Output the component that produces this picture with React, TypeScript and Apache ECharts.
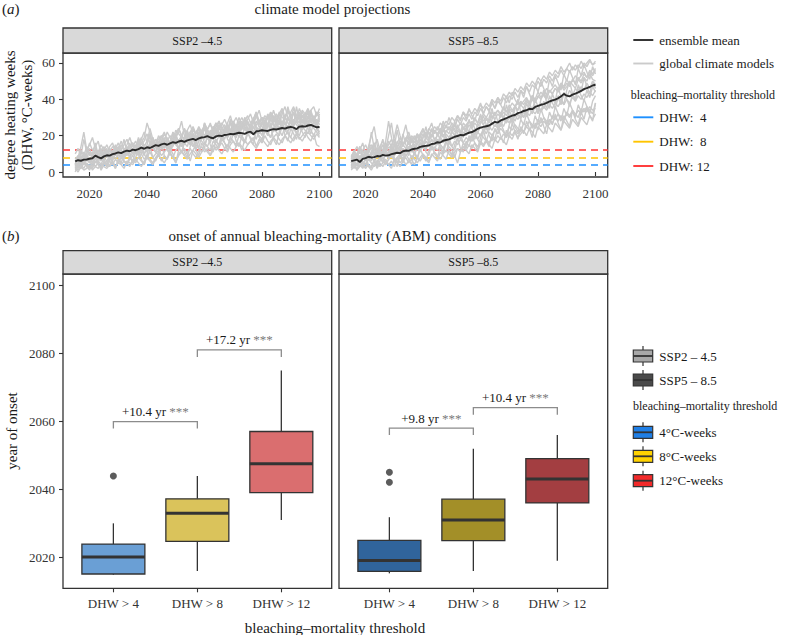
import React, { useEffect, useRef } from "react";
import * as echarts from "echarts";

const FONT = "'Liberation Serif', 'DejaVu Serif', serif";

// ---------- data ----------
const years = Array.from({ length: 86 }, (_, i) => 2015 + i);

const ssp245Mean = [
  5.8, 6.5, 6.2, 6.8, 6.9, 7.3, 7.6, 9.0, 8.2, 7.5,
  8.6, 9.2, 9.0, 9.8, 10.2, 10.8, 10.4, 11.2, 11.8, 11.4,
  12.3, 12.0, 12.6, 13.4, 12.8, 13.6, 13.2, 14.0, 14.8, 14.4,
  15.2, 15.6, 15.0, 15.8, 16.4, 16.0, 16.8, 17.2, 16.6, 17.4,
  17.8, 18.2, 17.6, 18.5, 19.0, 19.2, 19.8, 19.0, 18.6, 19.6,
  20.0, 19.8, 20.4, 20.6, 21.0, 20.8, 21.2, 21.6, 21.4, 21.0,
  21.8, 22.2, 20.8, 22.4, 22.6, 23.0, 22.8, 22.6, 23.2, 23.6,
  23.4, 23.8, 24.2, 23.9, 24.5, 24.8, 24.4, 23.6, 25.0, 25.2,
  25.0, 25.6, 25.9, 25.2, 24.6, 24.8,
];

const ssp585Mean = [
  6.0, 6.4, 6.8, 5.5, 7.2, 7.6, 8.4, 8.0, 8.2, 8.8,
  8.6, 9.4, 9.0, 9.2, 9.8, 10.2, 10.6, 10.4, 11.4, 11.8,
  11.6, 12.4, 12.8, 13.0, 13.8, 14.2, 14.4, 14.6, 15.4, 15.6,
  16.4, 16.2, 17.2, 17.6, 18.0, 18.6, 19.4, 19.8, 20.4, 20.2,
  21.0, 21.6, 22.0, 22.8, 23.8, 24.4, 24.8, 25.2, 25.6, 26.6,
  27.6, 27.2, 28.4, 29.0, 29.6, 30.4, 31.0, 31.4, 32.4, 32.8,
  33.6, 34.0, 34.8, 34.6, 35.8, 36.4, 37.0, 37.4, 38.0, 38.8,
  39.4, 39.8, 40.6, 41.6, 43.0, 42.0, 41.6, 42.6, 43.2, 43.8,
  44.6, 45.6, 46.2, 46.8, 47.6, 48.0,
];

const ssp245Models = [
  [3, 8, 14, 22, 12, 9, 11, 7, 10, 13, 9, 12, 10, 8, 13, 11, 15, 12, 10, 14, 16, 12, 15, 19, 14, 17, 21, 15, 18, 16, 19, 22, 17, 20, 18, 23, 21, 19, 24, 20, 22, 25, 21, 24, 20, 26, 23, 27, 22, 25, 28, 24, 26, 23, 29, 27, 25, 30, 26, 28, 31, 27, 29, 33, 28, 30, 27, 32, 29, 31, 28, 33, 30, 29, 34, 31, 32, 29, 33, 30, 32, 35, 31, 29, 33, 30],
  [1, 3, 2, 5, 4, 2, 6, 3, 5, 1, 4, 6, 3, 5, 2, 7, 4, 6, 5, 3, 7, 5, 8, 6, 4, 9, 7, 5, 8, 10, 6, 9, 7, 11, 8, 5, 10, 12, 9, 11, 13, 10, 8, 12, 14, 11, 13, 9, 15, 12, 14, 16, 13, 11, 15, 17, 14, 16, 12, 18, 15, 17, 19, 14, 18, 16, 20, 17, 15, 19, 21, 18, 16, 20, 22, 19, 17, 21, 18, 20, 22, 19, 17, 21, 15, 14],
  [6, 4, 8, 7, 10, 6, 9, 11, 8, 7, 10, 8, 12, 9, 11, 13, 10, 12, 14, 11, 13, 15, 12, 16, 19, 27, 22, 14, 16, 13, 17, 15, 18, 16, 14, 19, 17, 20, 18, 16, 21, 19, 17, 22, 20, 18, 23, 21, 19, 24, 22, 20, 25, 23, 21, 24, 26, 22, 25, 23, 27, 24, 22, 26, 28, 25, 23, 27, 25, 29, 26, 24, 28, 26, 30, 27, 25, 29, 27, 31, 28, 26, 30, 27, 29, 26],
  [4, 7, 5, 9, 6, 8, 5, 10, 7, 9, 6, 11, 8, 7, 10, 9, 12, 8, 11, 10, 9, 12, 11, 14, 10, 13, 12, 16, 14, 12, 15, 13, 17, 14, 16, 19, 22, 28, 20, 17, 18, 21, 19, 17, 22, 20, 18, 23, 21, 19, 24, 22, 20, 25, 23, 27, 24, 22, 26, 24, 21, 26, 28, 25, 23, 27, 30, 26, 24, 28, 31, 27, 25, 29, 36, 30, 26, 28, 32, 27, 29, 33, 28, 31, 27, 29],
  [2, 5, 9, 6, 12, 15, 19, 13, 8, 11, 14, 10, 7, 12, 9, 11, 8, 13, 10, 12, 15, 11, 13, 10, 14, 12, 16, 13, 11, 15, 13, 17, 14, 12, 16, 15, 18, 14, 17, 19, 16, 14, 18, 20, 17, 15, 19, 22, 18, 16, 20, 18, 23, 19, 21, 24, 20, 22, 19, 25, 23, 21, 25, 22, 24, 27, 23, 26, 24, 22, 26, 28, 24, 27, 25, 23, 28, 26, 24, 29, 27, 25, 28, 30, 26, 28],
  [5, 3, 6, 4, 8, 5, 7, 9, 6, 4, 8, 6, 9, 11, 7, 10, 8, 12, 9, 13, 11, 14, 10, 13, 15, 12, 16, 14, 18, 15, 17, 14, 19, 16, 21, 18, 16, 20, 23, 19, 21, 24, 20, 18, 23, 25, 21, 19, 24, 27, 23, 26, 29, 25, 22, 27, 30, 26, 28, 25, 29, 32, 27, 30, 34, 28, 31, 29, 33, 30, 27, 32, 35, 30, 28, 33, 36, 31, 29, 34, 32, 30, 34, 36, 31, 35],
  [3, 1, 4, 2, 5, 3, 2, 6, 4, 3, 5, 3, 6, 4, 7, 5, 8, 6, 4, 7, 9, 6, 8, 10, 7, 9, 11, 8, 10, 12, 9, 11, 13, 10, 8, 12, 14, 11, 13, 10, 6, 12, 15, 13, 11, 16, 14, 12, 17, 15, 13, 18, 16, 14, 19, 17, 15, 20, 18, 16, 21, 19, 17, 22, 20, 18, 23, 21, 19, 24, 22, 20, 25, 23, 21, 19, 24, 22, 20, 25, 23, 21, 26, 24, 22, 20],
  [7, 9, 6, 10, 8, 11, 9, 12, 10, 8, 11, 9, 13, 10, 12, 14, 11, 9, 13, 15, 12, 10, 14, 16, 13, 11, 15, 17, 14, 13, 16, 18, 15, 13, 17, 20, 16, 18, 15, 21, 19, 17, 22, 24, 20, 27, 23, 21, 25, 22, 20, 24, 22, 26, 23, 21, 25, 23, 27, 24, 22, 26, 24, 28, 25, 23, 27, 25, 29, 26, 24, 28, 26, 30, 27, 25, 29, 27, 31, 28, 26, 30, 28, 25, 27, 24],
  [2, 0, 3, 1, 2, 4, 1, 3, 2, 5, 3, 2, 4, 6, 3, 5, 4, 2, 6, 5, 4, 7, 5, 3, 6, 8, 6, 4, 7, 9, 7, 5, 8, 10, 8, 6, 9, 11, 9, 7, 10, 12, 10, 8, 11, 13, 11, 9, 12, 14, 12, 10, 13, 15, 13, 11, 14, 16, 14, 12, 15, 17, 15, 13, 16, 18, 16, 14, 17, 19, 17, 15, 18, 20, 18, 16, 19, 21, 19, 17, 20, 22, 20, 18, 21, 19],
  [10, 13, 9, 18, 11, 16, 12, 14, 17, 10, 12, 15, 11, 14, 13, 16, 12, 15, 18, 14, 16, 13, 19, 15, 17, 21, 16, 19, 15, 18, 20, 17, 22, 19, 16, 21, 24, 20, 18, 22, 19, 23, 21, 25, 22, 20, 24, 26, 23, 21, 25, 27, 24, 22, 26, 28, 25, 27, 30, 26, 28, 25, 29, 31, 27, 30, 28, 26, 31, 29, 32, 29, 27, 31, 33, 30, 35, 31, 29, 33, 30, 34, 32, 29, 31, 33],
  [4, 9, 6, 11, 7, 5, 10, 16, 9, 6, 10, 13, 7, 11, 15, 9, 12, 18, 11, 8, 13, 10, 17, 12, 9, 15, 20, 13, 11, 17, 14, 19, 12, 16, 22, 15, 13, 19, 24, 17, 15, 21, 18, 13, 20, 25, 19, 16, 22, 27, 20, 17, 24, 21, 28, 22, 19, 26, 23, 30, 24, 21, 27, 32, 25, 22, 28, 24, 33, 26, 23, 29, 34, 27, 24, 31, 26, 36, 28, 25, 31, 27, 33, 29, 26, 32],
  [0, 4, 2, 7, 3, 1, 5, 8, 4, 2, 6, 3, 9, 5, 2, 7, 11, 6, 4, 9, 5, 8, 12, 7, 4, 10, 14, 8, 6, 11, 16, 9, 7, 13, 10, 5, 12, 17, 11, 8, 14, 19, 12, 9, 16, 13, 20, 15, 11, 18, 14, 21, 16, 12, 19, 23, 17, 14, 20, 16, 22, 18, 15, 24, 19, 16, 23, 20, 26, 18, 15, 22, 27, 20, 17, 24, 21, 18, 25, 22, 19, 26, 23, 20, 24, 21],
  [8, 6, 12, 9, 14, 10, 8, 13, 11, 15, 12, 9, 14, 16, 11, 13, 17, 12, 15, 19, 14, 17, 13, 18, 22, 16, 24, 18, 15, 20, 17, 21, 18, 15, 22, 19, 24, 20, 17, 23, 26, 21, 18, 24, 20, 27, 23, 19, 25, 22, 28, 24, 21, 27, 31, 25, 22, 28, 24, 30, 27, 23, 29, 33, 26, 30, 24, 31, 28, 34, 29, 26, 32, 36, 30, 27, 33, 29, 35, 31, 28, 34, 30, 27, 33, 29],
  [5, 2, 7, 4, 9, 6, 3, 8, 5, 10, 7, 4, 9, 6, 11, 8, 5, 10, 13, 8, 6, 11, 9, 14, 10, 7, 12, 15, 11, 9, 13, 16, 12, 10, 15, 18, 13, 11, 16, 14, 19, 15, 12, 17, 21, 16, 14, 18, 22, 17, 15, 20, 24, 18, 16, 21, 19, 25, 20, 17, 22, 26, 21, 18, 23, 20, 27, 22, 19, 24, 28, 23, 20, 25, 22, 29, 24, 21, 26, 23, 27, 24, 21, 28, 25, 22],
  [6, 8, 4, 7, 10, 13, 8, 5, 9, 12, 8, 11, 6, 10, 14, 9, 12, 7, 11, 16, 10, 13, 18, 12, 15, 11, 14, 19, 13, 16, 20, 14, 17, 13, 18, 21, 16, 14, 19, 23, 17, 20, 15, 22, 18, 24, 20, 17, 23, 19, 26, 21, 18, 24, 20, 27, 23, 19, 25, 29, 22, 26, 30, 24, 21, 28, 25, 31, 26, 23, 29, 32, 26, 23, 30, 27, 33, 28, 25, 31, 27, 30, 34, 28, 25, 29],
];

const ssp585Models = [
  [8, 12, 9, 14, 11, 10, 13, 15, 12, 11, 14, 12, 16, 13, 15, 18, 14, 17, 15, 19, 16, 20, 18, 21, 19, 23, 20, 24, 22, 25, 23, 27, 25, 28, 26, 30, 28, 31, 29, 33, 31, 34, 32, 35, 33, 37, 35, 38, 36, 40, 38, 41, 39, 43, 41, 44, 42, 46, 44, 47, 45, 49, 47, 50, 48, 52, 50, 53, 51, 55, 53, 56, 54, 58, 55, 57, 60, 56, 59, 57, 61, 58, 60, 62, 59, 61],
  [2, 4, 1, 3, 5, 2, 4, 3, 6, 2, 5, 3, 6, 4, 2, 7, 5, 3, 6, 8, 5, 7, 4, 8, 6, 9, 7, 5, 10, 8, 6, 11, 9, 7, 12, 10, 8, 13, 11, 14, 12, 10, 15, 13, 11, 16, 14, 17, 15, 13, 18, 16, 19, 17, 15, 20, 18, 22, 19, 21, 23, 20, 24, 22, 19, 25, 23, 21, 26, 24, 22, 27, 25, 23, 28, 26, 24, 29, 27, 25, 30, 28, 26, 31, 29, 32],
  [5, 8, 6, 9, 7, 11, 8, 10, 13, 9, 12, 10, 17, 28, 19, 11, 14, 12, 15, 13, 16, 14, 17, 15, 18, 16, 19, 17, 21, 18, 20, 22, 19, 23, 21, 25, 22, 24, 27, 24, 26, 28, 25, 29, 27, 31, 28, 30, 33, 30, 32, 34, 31, 35, 33, 37, 34, 36, 39, 37, 39, 41, 38, 42, 40, 44, 41, 43, 46, 44, 46, 48, 45, 49, 47, 51, 48, 50, 53, 51, 53, 55, 52, 56, 54, 57],
  [3, 6, 4, 7, 10, 8, 14, 20, 25, 15, 9, 7, 10, 8, 11, 9, 12, 10, 13, 11, 14, 12, 15, 13, 16, 14, 17, 15, 18, 16, 15, 18, 16, 19, 17, 20, 18, 21, 19, 22, 20, 23, 21, 24, 22, 25, 23, 26, 24, 27, 25, 28, 26, 29, 27, 30, 28, 31, 29, 32, 30, 33, 31, 34, 32, 35, 33, 36, 34, 37, 35, 38, 36, 39, 37, 40, 38, 41, 39, 42, 40, 43, 41, 44, 42, 45],
  [7, 5, 8, 6, 9, 7, 10, 8, 6, 11, 9, 12, 10, 8, 13, 11, 14, 12, 20, 26, 18, 13, 15, 12, 16, 14, 17, 15, 13, 18, 16, 19, 17, 21, 19, 22, 20, 23, 21, 24, 22, 26, 24, 27, 25, 28, 26, 29, 27, 31, 29, 32, 30, 33, 31, 35, 33, 36, 34, 37, 35, 39, 37, 40, 38, 42, 40, 43, 41, 45, 43, 46, 44, 48, 46, 49, 47, 51, 49, 52, 50, 54, 52, 55, 53, 56],
  [4, 2, 5, 3, 6, 4, 7, 5, 3, 6, 8, 6, 4, 7, 9, 6, 8, 10, 7, 9, 11, 8, 10, 13, 11, 19, 25, 17, 12, 14, 12, 15, 13, 11, 16, 14, 17, 15, 18, 16, 14, 19, 17, 20, 18, 21, 19, 17, 22, 20, 23, 21, 24, 22, 20, 25, 23, 26, 24, 22, 27, 25, 28, 26, 24, 29, 27, 30, 28, 26, 31, 29, 32, 30, 28, 33, 31, 34, 32, 30, 35, 33, 36, 34, 32, 38],
  [6, 9, 7, 5, 8, 10, 7, 9, 11, 8, 10, 12, 9, 11, 14, 10, 13, 11, 9, 12, 14, 11, 13, 16, 12, 15, 13, 17, 14, 16, 18, 15, 13, 17, 14, 12, 9, 5, 11, 16, 19, 17, 21, 18, 22, 20, 24, 21, 25, 23, 26, 24, 28, 25, 29, 27, 31, 28, 32, 30, 33, 31, 35, 32, 36, 34, 38, 35, 39, 37, 40, 38, 42, 39, 43, 41, 45, 42, 46, 44, 47, 45, 49, 46, 50, 48],
  [9, 11, 14, 10, 12, 15, 11, 13, 16, 12, 14, 17, 13, 15, 18, 14, 16, 19, 15, 17, 20, 16, 18, 21, 17, 19, 22, 18, 20, 23, 21, 24, 20, 22, 25, 23, 26, 24, 22, 27, 25, 28, 26, 30, 27, 29, 32, 30, 28, 33, 31, 34, 32, 36, 33, 35, 38, 36, 34, 39, 37, 40, 38, 42, 39, 41, 44, 42, 40, 45, 43, 46, 44, 48, 45, 47, 50, 48, 46, 51, 49, 52, 50, 54, 51, 50],
  [1, 3, 2, 4, 2, 5, 3, 1, 4, 6, 3, 5, 7, 4, 6, 3, 8, 5, 7, 4, 6, 9, 7, 5, 8, 10, 8, 6, 9, 11, 9, 7, 10, 12, 10, 8, 11, 13, 11, 14, 12, 15, 13, 16, 14, 17, 15, 18, 16, 19, 17, 20, 18, 21, 19, 22, 20, 23, 21, 24, 22, 25, 23, 26, 24, 27, 25, 28, 26, 29, 27, 30, 28, 31, 29, 32, 30, 33, 31, 34, 32, 35, 33, 36, 34, 35],
  [8, 6, 10, 7, 12, 9, 11, 14, 10, 13, 11, 15, 12, 20, 27, 16, 13, 17, 14, 18, 15, 19, 16, 20, 17, 21, 18, 22, 19, 23, 20, 24, 22, 26, 23, 27, 25, 29, 26, 30, 28, 32, 29, 33, 31, 35, 32, 36, 34, 38, 35, 39, 37, 41, 38, 42, 40, 44, 41, 45, 43, 47, 44, 48, 46, 50, 47, 51, 49, 53, 50, 54, 52, 56, 53, 57, 55, 58, 56, 59, 57, 60, 58, 61, 59, 60],
  [5, 10, 7, 13, 9, 6, 11, 22, 13, 8, 12, 9, 15, 11, 8, 14, 23, 15, 10, 13, 17, 12, 10, 16, 21, 14, 12, 18, 24, 17, 15, 20, 26, 19, 16, 22, 28, 21, 18, 25, 22, 29, 24, 20, 27, 32, 26, 23, 30, 35, 28, 25, 33, 29, 37, 31, 27, 35, 40, 33, 30, 38, 34, 42, 36, 32, 40, 45, 38, 35, 43, 39, 47, 41, 37, 45, 50, 43, 40, 48, 44, 52, 47, 43, 50, 46],
  [2, 5, 1, 6, 3, 8, 4, 2, 7, 3, 6, 9, 4, 7, 12, 6, 3, 9, 5, 10, 7, 4, 11, 8, 13, 9, 6, 12, 15, 10, 8, 14, 11, 17, 12, 9, 15, 19, 13, 11, 17, 14, 20, 16, 12, 19, 23, 17, 14, 21, 18, 25, 20, 16, 23, 19, 27, 22, 18, 25, 21, 28, 24, 19, 27, 23, 30, 25, 21, 29, 26, 32, 27, 23, 31, 28, 25, 34, 29, 26, 33, 29, 36, 31, 28, 38],
  [7, 11, 8, 12, 16, 10, 13, 9, 14, 18, 12, 15, 11, 17, 14, 19, 26, 20, 15, 18, 22, 17, 20, 16, 21, 24, 19, 23, 27, 21, 25, 22, 28, 24, 30, 26, 23, 31, 28, 33, 29, 35, 31, 28, 34, 38, 32, 36, 33, 39, 35, 41, 37, 34, 42, 38, 44, 40, 37, 45, 41, 47, 43, 39, 48, 44, 50, 46, 42, 51, 47, 53, 49, 45, 54, 50, 56, 52, 48, 57, 53, 59, 55, 51, 58, 54],
  [4, 7, 3, 9, 5, 2, 8, 6, 10, 4, 8, 5, 11, 7, 13, 8, 5, 10, 7, 12, 9, 14, 10, 7, 13, 16, 11, 9, 15, 12, 17, 13, 10, 16, 19, 14, 12, 18, 21, 16, 13, 20, 17, 23, 18, 15, 22, 26, 20, 17, 24, 21, 27, 23, 19, 26, 30, 25, 22, 29, 26, 32, 28, 24, 31, 27, 35, 30, 26, 33, 29, 36, 32, 28, 35, 31, 38, 34, 30, 37, 33, 40, 36, 32, 39, 42],
  [9, 6, 10, 14, 8, 12, 7, 11, 16, 10, 13, 18, 12, 9, 15, 11, 17, 13, 21, 15, 12, 18, 14, 20, 16, 13, 19, 22, 17, 15, 21, 18, 24, 19, 16, 23, 20, 26, 22, 19, 25, 22, 28, 24, 21, 27, 31, 26, 23, 29, 33, 28, 25, 31, 27, 34, 30, 37, 32, 29, 35, 31, 38, 34, 40, 36, 33, 39, 35, 42, 38, 35, 41, 37, 44, 40, 36, 43, 39, 46, 42, 39, 45, 41, 47, 44],
];

const thresholds = [4, 8, 12];
const thresholdColors = ["#1E90FF", "#FFC400", "#FF3535"];
const thresholdLegend = ["DHW:  4", "DHW:  8", "DHW: 12"];
const scenarioStrips = ["SSP2 \u20134.5", "SSP5 \u20138.5"];
const scenarioLegend = ["SSP2 \u2013 4.5", "SSP5 \u2013 8.5"];
const scenarioKeyFills = ["#A8A8A8", "#4A4A4A"];
const weekLegend = ["4\u00B0C-weeks", "8\u00B0C-weeks", "12\u00B0C-weeks"];
const weekKeyFills = ["#1F7FE6", "#FFD200", "#F22A2A"];

const yearTicks = [2020, 2040, 2060, 2080, 2100];
const dhwTicks = [0, 20, 40, 60];
const onsetTicks = [2020, 2040, 2060, 2080, 2100];
const thresholdCats = ["DHW > 4", "DHW > 8", "DHW > 12"];

// boxplot stats: [min, Q1, median, Q3, max] per threshold
const ssp245Boxes = [
  [2015, 2015.2, 2020.2, 2024.0, 2030.1],
  [2016.1, 2024.8, 2033.1, 2037.3, 2044.0],
  [2031.1, 2039.1, 2047.6, 2057.1, 2075.0],
];
const ssp585Boxes = [
  [2015.4, 2016.0, 2019.2, 2025.1, 2031.9],
  [2016.1, 2025.0, 2031.1, 2037.2, 2052.0],
  [2019.1, 2036.1, 2043.1, 2049.1, 2056.1],
];
const ssp245Outliers = [[1, 2044.0]];
const ssp585Outliers = [[1, 2045.1], [1, 2042.2]];
const ssp245Fills = ["#6A9FD5", "#DAC35B", "#DA6E6F"];
const ssp585Fills = ["#30649B", "#A38F28", "#A33E41"];

// brackets: [fromCat, toCat, top, drop]
const ssp245Brackets = [[1, 2, 2060.0, 2058.0], [2, 3, 2081.1, 2079.0]];
const ssp245BracketLabels = ["+10.4 yr", "+17.2 yr"];
const ssp585Brackets = [[1, 2, 2058.1, 2056.1], [2, 3, 2064.1, 2062.0]];
const ssp585BracketLabels = ["+9.8 yr", "+10.4 yr"];

// ---------- layout ----------
const PANEL_X = [63, 339];
const PANEL_W = 268.7;
const TOP_Y = 53;
const TOP_H = 124;
const BOT_Y = 274;
const BOT_H = 314.3;

const TXT = "#333333";

function txt(x: number, y: number, text: string, size: number, extra: any = {}, rot = 0) {
  return {
    type: "text",
    x,
    y,
    rotation: rot,
    silent: true,
    style: {
      text,
      fill: extra.fill || "#1a1a1a",
      fontSize: size,
      fontFamily: FONT,
      align: extra.align || "left",
      verticalAlign: "middle",
      lineHeight: extra.lineHeight,
      rich: extra.rich,
    },
  };
}

function boxKey(x: number, cy: number, fill: string) {
  return {
    type: "group",
    silent: true,
    children: [
      { type: "line", shape: { x1: x + 9.7, y1: cy - 10, x2: x + 9.7, y2: cy + 10 }, style: { stroke: "#333", lineWidth: 1.2 } },
      { type: "rect", shape: { x, y: cy - 6, width: 19.4, height: 12 }, style: { fill, stroke: "#333", lineWidth: 1.2 } },
      { type: "line", shape: { x1: x, y1: cy, x2: x + 19.4, y2: cy }, style: { stroke: "#333", lineWidth: 1.8 } },
    ],
  };
}

function boxRender(fills: string[]) {
  return (params: any, api: any) => {
    const x = api.value(0);
    const lo = api.coord([x, api.value(1)]);
    const q1 = api.coord([x, api.value(2)]);
    const md = api.coord([x, api.value(3)]);
    const q3 = api.coord([x, api.value(4)]);
    const hi = api.coord([x, api.value(5)]);
    const w = api.size([0.75, 0])[0];
    const cx = lo[0];
    const st = { stroke: "#333", lineWidth: 1.3 };
    return {
      type: "group",
      children: [
        { type: "line", shape: { x1: cx, y1: hi[1], x2: cx, y2: q3[1] }, style: st },
        { type: "line", shape: { x1: cx, y1: q1[1], x2: cx, y2: lo[1] }, style: st },
        {
          type: "rect",
          shape: { x: cx - w / 2, y: q3[1], width: w, height: q1[1] - q3[1] },
          style: { fill: fills[params.dataIndex], stroke: "#333", lineWidth: 1.3 },
        },
        { type: "line", shape: { x1: cx - w / 2, y1: md[1], x2: cx + w / 2, y2: md[1] }, style: { stroke: "#333", lineWidth: 3 } },
      ],
    };
  };
}

function bracketRender(labels: string[]) {
  return (params: any, api: any) => {
    const a = api.coord([api.value(0), api.value(3)]);
    const b = api.coord([api.value(0), api.value(2)]);
    const c = api.coord([api.value(1), api.value(2)]);
    const d = api.coord([api.value(1), api.value(3)]);
    return {
      type: "group",
      children: [
        {
          type: "polyline",
          shape: { points: [a, b, c, d] },
          style: { stroke: "#8C8C8C", lineWidth: 1.3, fill: null },
        },
        {
          type: "text",
          x: (b[0] + c[0]) / 2,
          y: b[1] - 10,
          style: {
            text: `{a|${labels[params.dataIndex]}} {b|***}`,
            align: "center",
            verticalAlign: "middle",
            fontFamily: FONT,
            fontSize: 13,
            fill: "#1a1a1a",
            rich: {
              a: { fontFamily: FONT, fontSize: 13, fill: "#1a1a1a", color: "#1a1a1a" },
              b: { fontFamily: FONT, fontSize: 13, fill: "#7a7a7a", color: "#7a7a7a" },
            },
          },
        },
      ],
    };
  };
}

function buildOption() {
  const grids: any[] = [];
  const xAxes: any[] = [];
  const yAxes: any[] = [];
  const series: any[] = [];

  const tickStyle = { show: true, length: 4, lineStyle: { color: "#333", width: 1.1 } };
  const labelStyle = { color: TXT, fontSize: 13, fontFamily: FONT };

  // top panels
  [0, 1].forEach((p) => {
    grids.push({
      left: PANEL_X[p], top: TOP_Y, width: PANEL_W, height: TOP_H,
      show: true, borderColor: "#333", borderWidth: 1.3, backgroundColor: "#fff",
    });
    xAxes.push({
      gridIndex: p, type: "value", min: 2010.75, max: 2104.25,
      axisLine: { show: false }, splitLine: { show: false },
      axisTick: { ...tickStyle, customValues: yearTicks },
      axisLabel: { ...labelStyle, margin: 10, customValues: yearTicks, formatter: (v: number) => String(v) },
    });
    yAxes.push({
      gridIndex: p, type: "value", min: -2.75, max: 65.5,
      axisLine: { show: false }, splitLine: { show: false },
      axisTick: { ...tickStyle, show: p === 0, customValues: dhwTicks },
      axisLabel: { ...labelStyle, show: p === 0, margin: 8, customValues: dhwTicks, formatter: (v: number) => String(v) },
    });
    series.push({
      type: "line", xAxisIndex: p, yAxisIndex: p, data: [], z: 1, silent: true,
      markLine: {
        silent: true, z: 1, symbol: ["none", "none"], label: { show: false }, animation: false,
        data: thresholds.map((t, i) => ({
          yAxis: t,
          lineStyle: { color: thresholdColors[i], type: [7, 5], width: 1.5 },
        })),
      },
    });
    const models = p === 0 ? ssp245Models : ssp585Models;
    models.forEach((m) => {
      series.push({
        type: "line", xAxisIndex: p, yAxisIndex: p, z: 2, silent: true,
        symbol: "none", lineStyle: { color: "#CACACA", width: 1.4 },
        data: years.map((y, i) => [y, m[i]]),
      });
    });
    const mean = p === 0 ? ssp245Mean : ssp585Mean;
    series.push({
      type: "line", xAxisIndex: p, yAxisIndex: p, z: 3, silent: true,
      symbol: "none", lineStyle: { color: "#2b2b2b", width: 1.9 },
      data: years.map((y, i) => [y, mean[i]]),
    });
  });

  // bottom panels
  [0, 1].forEach((p) => {
    const gi = p + 2;
    grids.push({
      left: PANEL_X[p], top: BOT_Y, width: PANEL_W, height: BOT_H,
      show: true, borderColor: "#333", borderWidth: 1.3, backgroundColor: "#fff",
    });
    xAxes.push({
      gridIndex: gi, type: "value", min: 0.4, max: 3.6,
      axisLine: { show: false }, splitLine: { show: false },
      axisTick: { ...tickStyle, customValues: [1, 2, 3] },
      axisLabel: {
        ...labelStyle, margin: 9, customValues: [1, 2, 3],
        formatter: (v: number) => thresholdCats[Math.round(v) - 1] || "",
      },
    });
    yAxes.push({
      gridIndex: gi, type: "value", min: 2011, max: 2103.4,
      axisLine: { show: false }, splitLine: { show: false },
      axisTick: { ...tickStyle, show: p === 0, customValues: onsetTicks },
      axisLabel: { ...labelStyle, show: p === 0, margin: 8, customValues: onsetTicks, formatter: (v: number) => String(v) },
    });
    const boxes = p === 0 ? ssp245Boxes : ssp585Boxes;
    const fills = p === 0 ? ssp245Fills : ssp585Fills;
    series.push({
      type: "custom", xAxisIndex: gi, yAxisIndex: gi, z: 3, silent: true,
      renderItem: boxRender(fills),
      encode: { x: 0, y: [1, 2, 3, 4, 5] },
      data: boxes.map((b, i) => [i + 1, ...b]),
    });
    series.push({
      type: "scatter", xAxisIndex: gi, yAxisIndex: gi, z: 4, silent: true,
      symbolSize: 7, itemStyle: { color: "#333" },
      data: p === 0 ? ssp245Outliers : ssp585Outliers,
    });
    const br = p === 0 ? ssp245Brackets : ssp585Brackets;
    const bl = p === 0 ? ssp245BracketLabels : ssp585BracketLabels;
    series.push({
      type: "custom", xAxisIndex: gi, yAxisIndex: gi, z: 4, silent: true,
      renderItem: bracketRender(bl),
      encode: { x: [0, 1], y: [2, 3] },
      data: br,
    });
  });

  // graphics
  const g: any[] = [];
  // strips
  [0, 1].forEach((p) => {
    g.push({ type: "rect", silent: true, shape: { x: PANEL_X[p], y: 28, width: PANEL_W, height: 25 }, style: { fill: "#D9D9D9", stroke: "#333", lineWidth: 1.3 } });
    g.push(txt(PANEL_X[p] + PANEL_W / 2, 40.5, scenarioStrips[p], 12, { align: "center" }));
    g.push({ type: "rect", silent: true, shape: { x: PANEL_X[p], y: 250.7, width: PANEL_W, height: 23.3 }, style: { fill: "#D9D9D9", stroke: "#333", lineWidth: 1.3 } });
    g.push(txt(PANEL_X[p] + PANEL_W / 2, 262.3, scenarioStrips[p], 12, { align: "center" }));
  });
  // titles
  g.push(txt(2, 9, "({i|a})", 15, { rich: { i: { fontStyle: "italic", fontFamily: FONT, fontSize: 15, fill: "#1a1a1a" } } }));
  g.push(txt(332.5, 9, "climate model projections", 15, { align: "center" }));
  g.push(txt(2, 236, "({i|b})", 15, { rich: { i: { fontStyle: "italic", fontFamily: FONT, fontSize: 15, fill: "#1a1a1a" } } }));
  g.push(txt(332.5, 236, "onset of annual bleaching-mortality (ABM) conditions", 15, { align: "center" }));
  // axis titles
  g.push(txt(18.5, 115, "degree heating weeks\n(DHW, \u00B0C-weeks)", 15, { align: "center", lineHeight: 17 }, Math.PI / 2));
  g.push(txt(11.5, 431, "year of onset", 15, { align: "center" }, Math.PI / 2));
  g.push(txt(335, 627.5, "bleaching\u2013mortality threshold", 15, { align: "center" }));

  // top legend
  g.push({ type: "line", silent: true, shape: { x1: 633.3, y1: 40, x2: 653.3, y2: 40 }, style: { stroke: "#2b2b2b", lineWidth: 1.9 } });
  g.push(txt(659.3, 40, "ensemble mean", 13));
  g.push({ type: "line", silent: true, shape: { x1: 633.3, y1: 63.5, x2: 653.3, y2: 63.5 }, style: { stroke: "#CBCBCB", lineWidth: 1.9 } });
  g.push(txt(659.3, 63.5, "global climate models", 13));
  g.push(txt(630.7, 95, "bleaching\u2013mortality threshold", 12));
  [117.3, 141.7, 166].forEach((y, i) => {
    g.push({ type: "line", silent: true, shape: { x1: 633.3, y1: y, x2: 653.3, y2: y }, style: { stroke: thresholdColors[i], lineWidth: 1.9 } });
    g.push(txt(659.3, y, thresholdLegend[i], 13));
  });

  // bottom legend
  [356, 380].forEach((y, i) => {
    g.push(boxKey(633.3, y, scenarioKeyFills[i]));
    g.push(txt(659.3, y, scenarioLegend[i], 13));
  });
  g.push(txt(633, 406, "bleaching\u2013mortality threshold", 12));
  [432.3, 456.3, 480.7].forEach((y, i) => {
    g.push(boxKey(633.3, y, weekKeyFills[i]));
    g.push(txt(659.3, y, weekLegend[i], 13));
  });

  return {
    animation: false,
    backgroundColor: "#ffffff",
    textStyle: { fontFamily: FONT },
    grid: grids,
    xAxis: xAxes,
    yAxis: yAxes,
    series,
    graphic: { elements: g },
  };
}

export default function App() {
  const ref = useRef<HTMLDivElement>(null);
  useEffect(() => {
    if (!ref.current) return;
    const chart = echarts.init(ref.current, null, { renderer: "svg" });
    chart.setOption(buildOption() as any);
    return () => chart.dispose();
  }, []);
  return (
    <div
      ref={ref}
      style={{ position: "fixed", left: 0, top: 0, width: 787, height: 635, background: "#fff" }}
    />
  );
}
